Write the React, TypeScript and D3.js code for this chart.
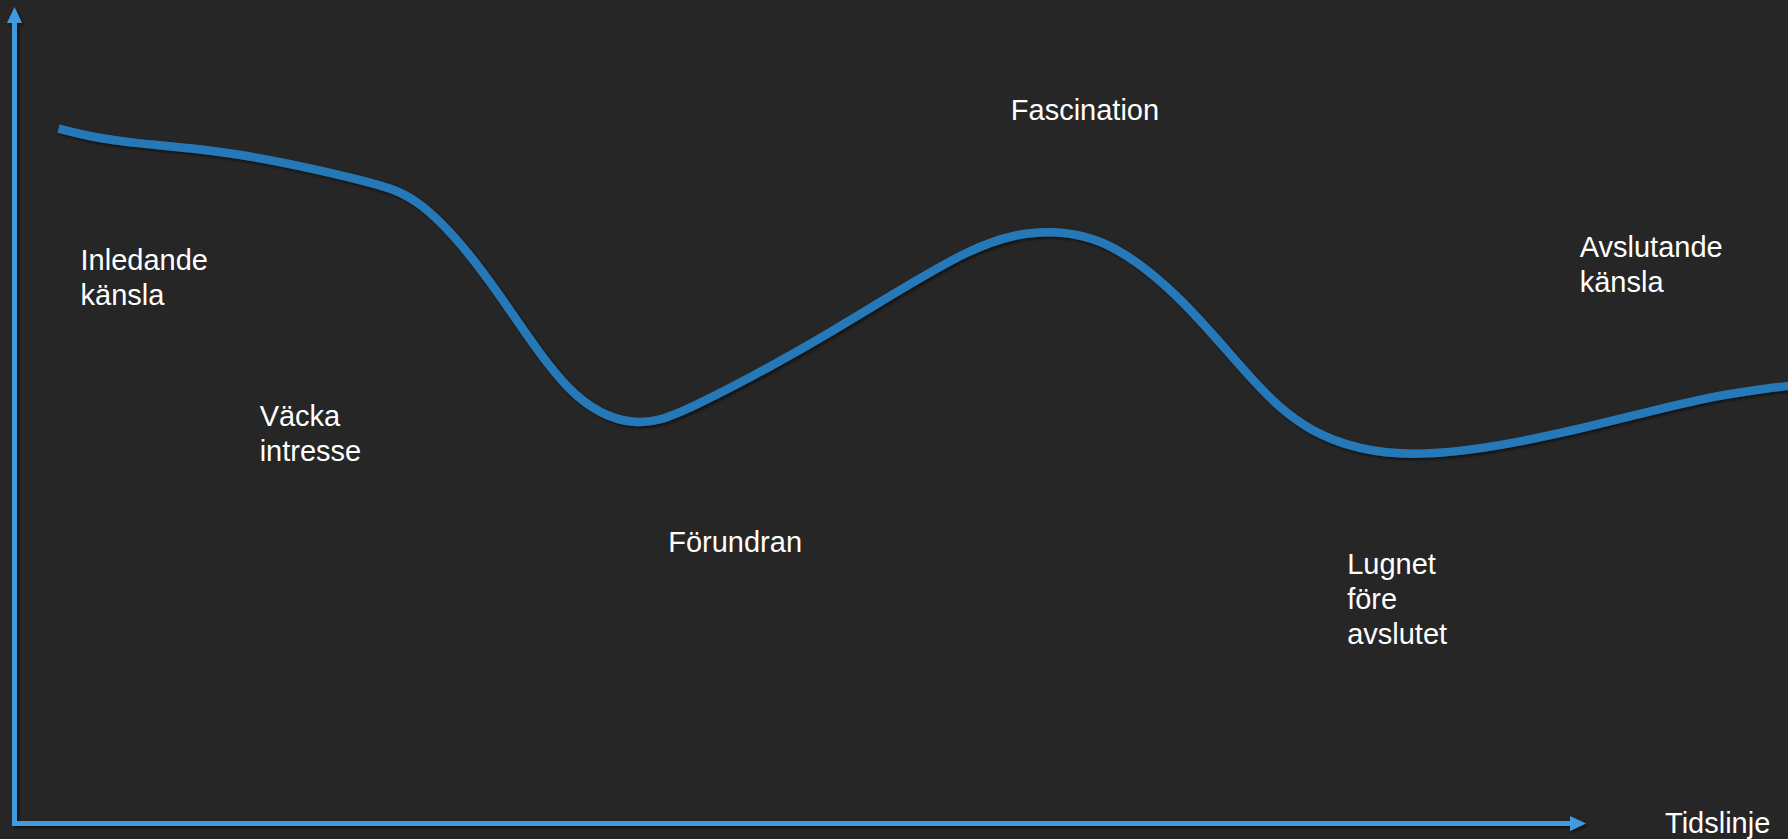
import { useRef, useEffect } from "react";
import * as d3 from "d3";

// emotional curve over the timeline (t: 0-100 along the time axis, v: 0-100 up the feeling axis)
const curveT = [2.8, 4.8, 8.0, 14.3, 21.8, 26.0, 30.3, 35.2, 39.4, 43.6, 52.1, 60.6, 65.9, 69.9, 74.2, 78.4, 82.6, 89.1, 98.3, 107.0, 112.9];
const curveV = [85.1, 84.2, 83.3, 81.9, 78.9, 75.5, 66.2, 53.5, 49.2, 51.5, 60.4, 69.9, 72.4, 70.5, 64.1, 55.2, 48.2, 45.3, 47.8, 51.8, 53.6];

// phase labels
const labelLines = [
  ["Inledande", "känsla"],
  ["Väcka", "intresse"],
  ["Förundran"],
  ["Fascination"],
  ["Lugnet", "före", "avslutet"],
  ["Avslutande", "känsla"],
];
const labelT = [4.2, 15.6, 41.6, 63.4, 84.8, 99.6];
const labelV = [67.8, 48.7, 33.3, 86.2, 30.6, 69.4];

const xAxisTitle = "Tidslinje";

const W = 1788;
const H = 839;
const BG = "#262626";
const AXIS = "#439ade";
const LINE = "#2879b9";
const FONT = "'Liberation Sans', Arial, sans-serif";

export default function App() {
  const svgRef = useRef<SVGSVGElement>(null);

  useEffect(() => {
    document.body.style.margin = "0";
    document.body.style.overflow = "hidden";
    document.body.style.background = BG;
    if (!svgRef.current) return;

    const svg = d3.select(svgRef.current);
    svg.selectAll("*").remove();

    const x = d3.scaleLinear().domain([0, 100]).range([14.5, 1586]);
    const y = d3.scaleLinear().domain([0, 100]).range([823.5, 7]);

    const defs = svg.append("defs");
    const f = defs.append("filter").attr("id", "shadow")
      .attr("x", "-5%").attr("y", "-5%").attr("width", "110%").attr("height", "110%");
    f.append("feDropShadow")
      .attr("dx", 2).attr("dy", 2).attr("stdDeviation", 1.8)
      .attr("flood-color", "#000").attr("flood-opacity", 0.55);

    svg.append("rect").attr("width", W).attr("height", H).attr("fill", BG);

    // axes with arrow heads
    const head = 16;
    const half = 7.5;
    const axes = svg.append("g").attr("filter", "url(#shadow)");
    const x0 = x(0), y0 = y(0), x1 = x(100), y1 = y(100);

    axes.append("line")
      .attr("x1", x0).attr("y1", y0)
      .attr("x2", x0).attr("y2", y1 + head)
      .attr("stroke", AXIS).attr("stroke-width", 5);
    axes.append("path")
      .attr("d", `M${x0},${y1} L${x0 + half},${y1 + head} L${x0 - half},${y1 + head} Z`)
      .attr("fill", AXIS);

    axes.append("line")
      .attr("x1", x0 - 2.5).attr("y1", y0)
      .attr("x2", x1 - head).attr("y2", y0)
      .attr("stroke", AXIS).attr("stroke-width", 5);
    axes.append("path")
      .attr("d", `M${x1},${y0} L${x1 - head},${y0 - half} L${x1 - head},${y0 + half} Z`)
      .attr("fill", AXIS);

    // the curve
    const pts = curveT.map((t, i) => [t, curveV[i]] as [number, number]);
    const line = d3.line<[number, number]>()
      .x(d => x(d[0]))
      .y(d => y(d[1]))
      .curve(d3.curveNatural);

    svg.append("path")
      .datum(pts)
      .attr("d", line)
      .attr("fill", "none")
      .attr("stroke", LINE)
      .attr("stroke-width", 8.5)
      .attr("filter", "url(#shadow)");

    // labels
    const lh = 35;
    labelLines.forEach((lines, i) => {
      const t = svg.append("text")
        .attr("x", x(labelT[i]))
        .attr("y", y(labelV[i]))
        .attr("fill", "#ffffff")
        .attr("font-family", FONT)
        .attr("font-size", 29);
      lines.forEach((s, j) => {
        t.append("tspan")
          .attr("x", x(labelT[i]))
          .attr("dy", j === 0 ? 0 : lh)
          .text(s);
      });
    });

    svg.append("text")
      .attr("x", x1 + 79)
      .attr("y", y0 + 9)
      .attr("fill", "#ffffff")
      .attr("font-family", FONT)
      .attr("font-size", 29)
      .text(xAxisTitle);
  }, []);

  return (
    <svg
      ref={svgRef}
      width={W}
      height={H}
      style={{ position: "absolute", left: 0, top: 0, display: "block" }}
    />
  );
}
